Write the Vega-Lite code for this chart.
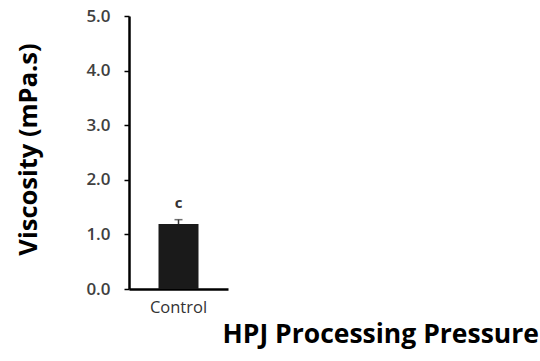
{
  "$schema": "https://vega.github.io/schema/vega-lite/v6.json",
  "width": 99,
  "height": 273,
  "autosize": {"type": "none"},
  "padding": {"left": 129, "top": 16, "right": 312, "bottom": 72},
  "background": "white",
  "data": {"values": [{"group": "Control", "viscosity": 1.19, "upper": 1.27, "letter": "c"}]},
  "encoding": {
    "x": {
      "field": "group", "type": "nominal",
      "scale": {"paddingInner": 0.42, "paddingOuter": 0.42},
      "axis": {
        "title": "HPJ Processing Pressure",
        "labelAngle": 0, "ticks": false, "labelPadding": 10,
        "labelFont": "Open Sans", "labelFontSize": 16.5, "labelColor": "#333333",
        "domainColor": "#000000", "domainWidth": 2.5,
        "titleFont": "Open Sans", "titleFontSize": 26.5, "titleFontWeight": "bold", "titleColor": "#000000",
        "titleAnchor": "start", "titleAlign": "left", "titleBaseline": "alphabetic",
        "titleX": 93, "titleY": 53
      }
    }
  },
  "layer": [
    {
      "mark": {"type": "bar", "color": "#1a1a1a", "width": 40},
      "encoding": {
        "y": {
          "field": "viscosity", "type": "quantitative",
          "scale": {"domain": [0, 5], "nice": false},
          "axis": {
            "title": "Viscosity (mPa.s)",
            "values": [0, 1, 2, 3, 4, 5], "format": ".1f", "grid": false,
            "tickSize": 5, "tickColor": "#000000", "tickWidth": 1.5,
            "labelPadding": 14, "labelFont": "Open Sans", "labelFontSize": 17, "labelFontWeight": 600, "labelColor": "#404040",
            "domainColor": "#000000", "domainWidth": 2.5,
            "titleFont": "Open Sans", "titleFontSize": 25.5, "titleFontWeight": "bold", "titleColor": "#000000",
            "titleAngle": -90, "titleAlign": "center", "titleBaseline": "middle",
            "titleX": -101, "titleY": 133
          }
        }
      }
    },
    {
      "mark": {"type": "rule", "color": "#333333", "strokeWidth": 1.5},
      "encoding": {"y": {"field": "viscosity", "type": "quantitative"}, "y2": {"field": "upper"}}
    },
    {
      "mark": {"type": "tick", "color": "#333333", "size": 8, "thickness": 1.5},
      "encoding": {"y": {"field": "upper", "type": "quantitative"}}
    },
    {
      "mark": {"type": "text", "font": "Open Sans", "fontSize": 15, "fontWeight": "bold", "color": "#333333", "dy": -9, "baseline": "bottom"},
      "encoding": {"y": {"field": "upper", "type": "quantitative"}, "text": {"field": "letter"}}
    }
  ],
  "config": {"view": {"stroke": null}}
}
